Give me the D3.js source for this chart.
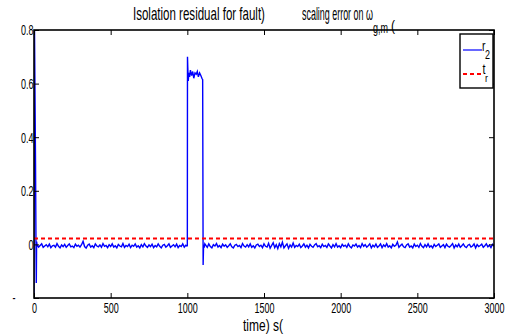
<!DOCTYPE html>
<html>
<head>
<meta charset="utf-8">
<script src="https://cdn.jsdelivr.net/npm/d3@7"></script>
<style>
  body { margin: 0; background: #fff; }
  svg { display: block; font-family: "Liberation Sans", Arial, sans-serif; }
</style>
</head>
<body>
<svg id="chart" width="510" height="335"></svg>
<script>
// residual r2 for the scaling fault, sampled every 10 s outside the transients
const sampleStep = 10;

// start-up transient
const r2StartTime = [0, 2, 10, 13, 15, 17];
const r2StartValue = [-0.25, 0.9, 0.3, 0.0, -0.144, 0.01];

// baseline noise, t = 20 .. 990
const r2BaseA = [
  -0.002, -0.010, -0.004, 0.002, -0.011, -0.006, -0.001, -0.009, 0.001, -0.012,
  -0.005, -0.003, -0.010, 0.003, -0.007, -0.013, -0.002, -0.008, 0.000, -0.011,
  -0.004, 0.002, -0.009, -0.006, -0.012, 0.001, -0.007, -0.003, -0.010, -0.001,
  0.012, -0.008, -0.014, -0.003, 0.001, -0.010, -0.005, -0.012, 0.002, -0.006,
  -0.009, -0.002, -0.011, 0.003, -0.007, -0.004, -0.012, -0.001, -0.008, 0.002,
  -0.010, -0.005, -0.013, 0.000, -0.006, -0.009, 0.003, -0.011, -0.004, -0.008,
  0.001, -0.012, -0.003, -0.007, 0.002, -0.010, -0.005, -0.013, -0.001, -0.009,
  0.003, -0.006, -0.011, -0.002, -0.008, 0.001, -0.012, -0.004, -0.009, 0.002,
  -0.007, -0.013, -0.003, 0.000, -0.010, -0.005, 0.002, -0.011, -0.006, -0.001,
  -0.009, 0.001, -0.012, -0.004, -0.008, 0.002, -0.010, -0.003
];
const r2BaseAStart = 20;

// fault window
const r2FaultTime = [996, 1000, 1001, 1003, 1006, 1010, 1015, 1020, 1028, 1035, 1042, 1050,
  1058, 1065, 1072, 1080, 1088, 1095, 1100, 1103, 1106, 1110, 1114];
const r2FaultValue = [-0.006, -0.005, 0.70, 0.66, 0.61, 0.64, 0.625, 0.65, 0.63, 0.645, 0.62, 0.64,
  0.635, 0.645, 0.625, 0.64, 0.63, 0.62, 0.615, -0.077, 0.0, -0.012, 0.002];

// baseline noise, t = 1120 .. 3000
const r2BaseB = [
  -0.003, -0.011, 0.002, -0.008, -0.013, -0.001, -0.006, 0.003, -0.010, -0.004,
  -0.012, 0.001, -0.007, -0.002, -0.011, -0.005, 0.002, -0.009, -0.013, -0.003,
  0.000, -0.008, -0.004, -0.012, 0.003, -0.006, -0.010, -0.001, -0.009, 0.002,
  -0.011, -0.005, -0.013, -0.002, 0.001, -0.008, -0.003, -0.012, 0.002, -0.007,
  -0.010, 0.004, -0.014, -0.004, 0.006, -0.012, -0.001, -0.016, 0.003, -0.009,
  0.008, -0.013, -0.005, 0.002, -0.015, -0.002, -0.010, 0.005, -0.011, -0.004,
  -0.008, 0.001, -0.012, -0.006, 0.002, -0.010, -0.003, -0.013, 0.000, -0.007,
  -0.011, -0.002, 0.003, -0.009, -0.005, -0.012, 0.001, -0.008, -0.004, -0.011,
  0.002, -0.006, -0.013, -0.001, -0.009, 0.003, -0.010, -0.005, -0.012, 0.000,
  -0.007, -0.003, -0.011, 0.002, -0.008, -0.013, -0.002, -0.006, 0.001, -0.010,
  -0.004, -0.012, 0.003, -0.007, -0.001, -0.010, -0.005, 0.002, -0.013, -0.003,
  -0.009, 0.001, -0.011, -0.006, 0.002, -0.012, -0.002, -0.008, 0.003, -0.010,
  -0.005, -0.013, 0.000, -0.007, -0.003, 0.009, -0.011, -0.004, 0.001, -0.009,
  -0.012, -0.002, 0.002, -0.010, -0.006, -0.013, 0.001, -0.008, -0.003, -0.011,
  0.003, -0.007, -0.012, -0.001, -0.009, 0.002, -0.010, -0.005, -0.013, 0.000,
  -0.008, -0.003, 0.002, -0.011, -0.006, -0.001, -0.012, 0.001, -0.007, -0.010,
  -0.004, 0.003, -0.013, -0.002, -0.009, 0.001, -0.011, -0.005, 0.002, -0.008,
  -0.012, -0.003, 0.000, -0.010, -0.006, 0.002, -0.013, -0.001, -0.008, -0.004,
  0.001, -0.011, -0.005, 0.002, -0.009, -0.003, -0.012, 0.000, -0.007
];
const r2BaseBStart = 1120;

// threshold t_r
const thresholdValue = 0.022;

const xTicks = [0, 500, 1000, 1500, 2000, 2500, 3000];
const yTicks = [-0.2, 0, 0.2, 0.4, 0.6, 0.8];
const yTickLabels = ["-", "0", "0.2", "0.4", "0.6", "0.8"];

// build the r2 series
const r2 = [];
r2StartTime.forEach((t, i) => r2.push([t, r2StartValue[i]]));
r2BaseA.forEach((v, i) => r2.push([r2BaseAStart + i * sampleStep, v]));
r2FaultTime.forEach((t, i) => r2.push([t, r2FaultValue[i]]));
r2BaseB.forEach((v, i) => r2.push([r2BaseBStart + i * sampleStep, v]));

const plot = { left: 34, right: 494, top: 30, bottom: 298 };
const squeeze = 0.6;

const svg = d3.select("#chart");

// text squeezed horizontally to a given width, like the narrow MATLAB export
function squeezedText(parent, x, y, size, str, width) {
  const t = parent.append("text").attr("font-size", size).attr("fill", "#000").text(str);
  const w = t.node().getComputedTextLength();
  t.attr("transform", `translate(${x},${y}) scale(${width / w},1)`);
  return t;
}

const x = d3.scaleLinear().domain([0, 3000]).range([plot.left, plot.right]);
const y = d3.scaleLinear().domain([-0.2, 0.8]).range([plot.bottom, plot.top]);

svg.append("defs").append("clipPath").attr("id", "plotClip")
  .append("rect")
  .attr("x", plot.left).attr("y", plot.top)
  .attr("width", plot.right - plot.left).attr("height", plot.bottom - plot.top);

// lines
const line = d3.line().x(d => x(d[0])).y(d => y(d[1]));

svg.append("path")
  .datum(r2)
  .attr("clip-path", "url(#plotClip)")
  .attr("fill", "none")
  .attr("stroke", "#0000ff")
  .attr("stroke-width", 1.4)
  .attr("d", line);

svg.append("path")
  .datum([[0, thresholdValue], [3000, thresholdValue]])
  .attr("fill", "none")
  .attr("stroke", "#ff0000")
  .attr("stroke-width", 2)
  .attr("stroke-dasharray", "4,3")
  .attr("d", line);

// axes with inward ticks
const xAxis = svg.append("g")
  .attr("transform", `translate(0,${plot.bottom})`)
  .call(d3.axisBottom(x).tickValues(xTicks).tickSizeInner(-5).tickSizeOuter(0).tickPadding(4)
    .tickFormat(d3.format("d")));

const yAxis = svg.append("g")
  .attr("transform", `translate(${plot.left},0)`)
  .call(d3.axisLeft(y).tickValues(yTicks).tickSizeInner(-5).tickSizeOuter(0).tickPadding(1)
    .tickFormat((d, i) => yTickLabels[i]));

svg.append("g")
  .attr("transform", `translate(0,${plot.top})`)
  .call(d3.axisTop(x).tickValues(xTicks).tickSizeInner(-5).tickSizeOuter(0).tickFormat(""));

svg.append("g")
  .attr("transform", `translate(${plot.right},0)`)
  .call(d3.axisRight(y).tickValues(yTicks).tickSizeInner(-5).tickSizeOuter(0).tickFormat(""));

svg.selectAll(".domain").remove();
svg.selectAll(".tick line").attr("stroke", "#000");

[xAxis, yAxis].forEach(g => g.selectAll(".tick text")
  .attr("font-size", 15)
  .attr("font-family", "'Liberation Sans', Arial, sans-serif")
  .attr("fill", "#000")
  .attr("transform", `scale(${squeeze},1)`));

yAxis.selectAll(".tick text")
  .filter((d, i) => yTickLabels[i] === "-")
  .attr("text-anchor", "middle")
  .attr("x", -20 / squeeze);

// frame
svg.append("rect")
  .attr("x", plot.left).attr("y", plot.top)
  .attr("width", plot.right - plot.left).attr("height", plot.bottom - plot.top)
  .attr("fill", "none")
  .attr("stroke", "#000")
  .attr("stroke-width", 1.6);

// title
const title = svg.append("g");
squeezedText(title, 133, 20, 18, "Isolation residual for fault)", 132);
squeezedText(title, 302, 20, 18, "scaling error on \u03c9", 71);
squeezedText(title, 373, 33, 14, "g,m", 15);
squeezedText(title, 391, 31, 15, "(", 4);

// x label
squeezedText(svg, 243, 331, 17, "time) s(", 40);

// legend
const legend = svg.append("g");
legend.append("rect")
  .attr("x", 460).attr("y", 34)
  .attr("width", 33).attr("height", 54)
  .attr("fill", "#fff")
  .attr("stroke", "#000")
  .attr("stroke-width", 1.4);

legend.append("line")
  .attr("x1", 463).attr("x2", 482).attr("y1", 50).attr("y2", 50)
  .attr("stroke", "#0000ff").attr("stroke-width", 1.2);
legend.append("line")
  .attr("x1", 463).attr("x2", 482).attr("y1", 74).attr("y2", 74)
  .attr("stroke", "#ff0000").attr("stroke-width", 2)
  .attr("stroke-dasharray", "4,3");

squeezedText(legend, 482, 51, 15, "r", 3.5);
squeezedText(legend, 485, 59, 12, "2", 5);
squeezedText(legend, 482.5, 74, 15, "t", 3);
squeezedText(legend, 485, 82, 11, "r", 3);
</script>
</body>
</html>
